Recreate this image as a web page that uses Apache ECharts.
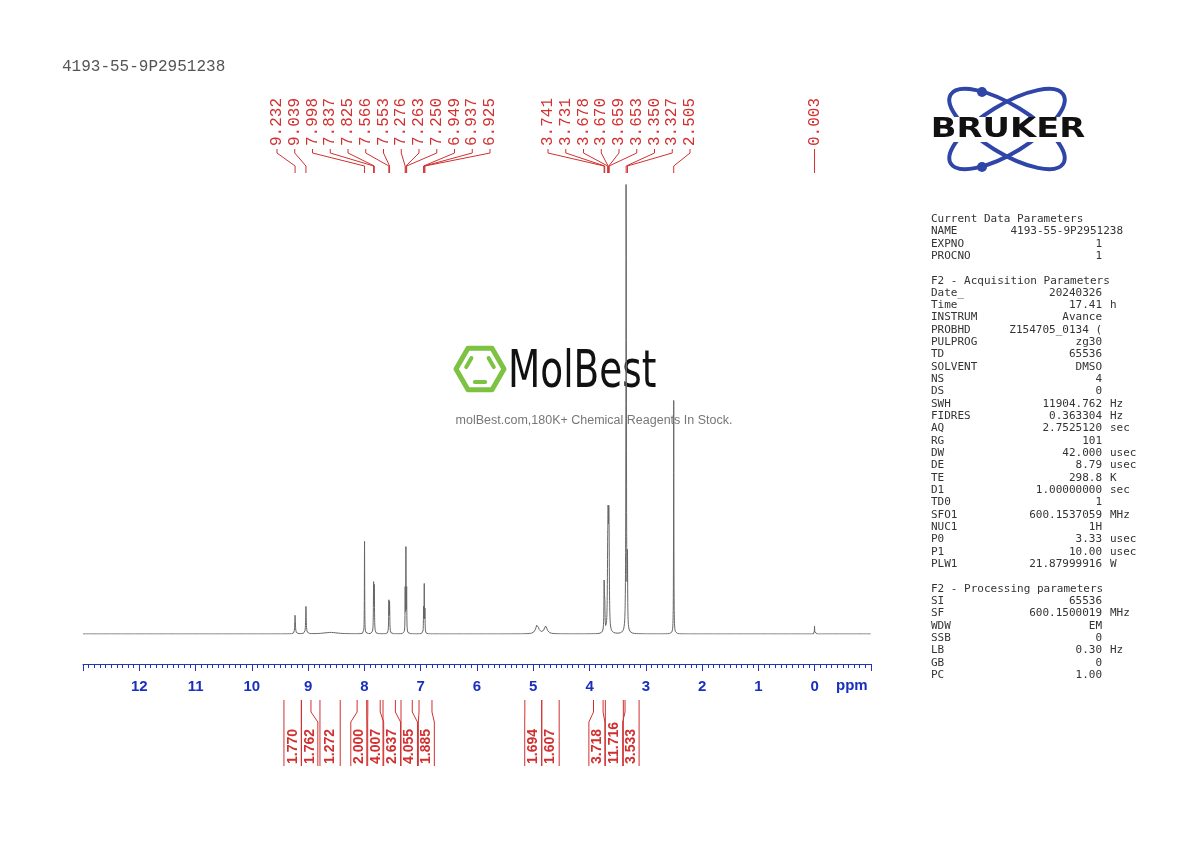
<!DOCTYPE html>
<html><head><meta charset="utf-8">
<script src="https://cdn.jsdelivr.net/npm/echarts@6/dist/echarts.min.js"></script>
<style>html,body{margin:0;padding:0;background:#fff}#c{width:1190px;height:842px}</style>
</head><body><div id="c"></div>
<script>
// ---- data ----
const sampleName = '4193-55-9P2951238';
const peakCenters = [9.232, 9.039, 8.60, 7.998, 7.837, 7.825, 7.566, 7.553, 7.276, 7.263, 7.250, 6.949, 6.937, 6.925, 4.93, 4.78, 3.741, 3.731, 3.678, 3.670, 3.659, 3.653, 3.350, 3.327, 2.505, 0.003];
const peakHeights = [4.6, 6.1, 0.35, 20.6, 10.6, 10.4, 7.0, 7.0, 9.5, 18.5, 9.5, 5.5, 10.6, 5.5, 2.1, 1.7, 10.3, 6.5, 13, 19, 17, 12, 130, 15, 52, 2.2];
const peakWidths = [0.006, 0.006, 0.15, 0.003, 0.004, 0.004, 0.004, 0.004, 0.003, 0.003, 0.003, 0.003, 0.003, 0.003, 0.03, 0.03, 0.005, 0.005, 0.006, 0.006, 0.006, 0.006, 0.004, 0.004, 0.003, 0.002];
const pickGroup1 = [9.232, 9.039, 7.998, 7.837, 7.825, 7.566, 7.553, 7.276, 7.263, 7.250, 6.949, 6.937, 6.925];
const pickGroup2 = [3.741, 3.731, 3.678, 3.670, 3.659, 3.653, 3.350, 3.327, 2.505];
const pickGroup3 = [0.003];
const integralValues = ['1.770', '1.762', '1.272', '2.000', '4.007', '2.637', '4.055', '1.885', '1.694', '1.607', '3.718', '11.716', '3.533'];
const integralFrom = [9.43, 9.12, 8.79, 8.13, 7.94, 7.67, 7.35, 7.03, 5.15, 4.85, 3.93, 3.72, 3.37];
const integralTo = [9.12, 8.95, 8.43, 7.96, 7.72, 7.45, 7.15, 6.80, 4.85, 4.54, 3.76, 3.40, 3.12];
const integralLabelPpm = [9.27, 8.97, 8.61, 8.10, 7.80, 7.50, 7.20, 6.90, 5.01, 4.70, 3.87, 3.57, 3.27];
const axisTicks = [12, 11, 10, 9, 8, 7, 6, 5, 4, 3, 2, 1, 0];
const params = [
 ['Current Data Parameters','',''],
 ['NAME','4193-55-9P2951238','','n'],
 ['EXPNO','1',''],['PROCNO','1',''],['','',''],
 ['F2 - Acquisition Parameters','',''],
 ['Date_','20240326',''],['Time','17.41','h'],['INSTRUM','Avance',''],['PROBHD','Z154705_0134 (',''],
 ['PULPROG','zg30',''],['TD','65536',''],['SOLVENT','DMSO',''],['NS','4',''],['DS','0',''],
 ['SWH','11904.762','Hz'],['FIDRES','0.363304','Hz'],['AQ','2.7525120','sec'],['RG','101',''],
 ['DW','42.000','usec'],['DE','8.79','usec'],['TE','298.8','K'],['D1','1.00000000','sec'],['TD0','1',''],
 ['SFO1','600.1537059','MHz'],['NUC1','1H',''],['P0','3.33','usec'],['P1','10.00','usec'],['PLW1','21.87999916','W'],
 ['','',''],['F2 - Processing parameters','',''],
 ['SI','65536',''],['SF','600.1500019','MHz'],['WDW','EM',''],['SSB','0',''],['LB','0.30','Hz'],['GB','0',''],['PC','1.00','']
];
// ---- spectrum from peak list ----
const spec = [];
for (let i = 0; i <= 14000; i++) {
  const x = 13 - i * 0.001;
  let y = 0;
  for (let k = 0; k < peakCenters.length; k++) {
    const d = (x - peakCenters[k]) / peakWidths[k];
    y += peakHeights[k] / (1 + d * d);
  }
  spec.push([x, Math.min(y, 101)]);
}
const chart = echarts.init(document.getElementById('c'));
const blue = '#1a2fc0';
const option = {
  animation: false,
  grid: [{left: 83, right: 319, top: 185, bottom: 208}, {left: 83, right: 319, top: 600, bottom: 178}],
  xAxis: [{type: 'value', gridIndex: 0, min: -1, max: 13, inverse: true, show: false},
   {type: 'value', gridIndex: 1, min: -1, max: 13, inverse: true, interval: 1, position: 'bottom',
    axisLine: {lineStyle: {color: '#2233bb', width: 1}},
    axisTick: {length: 7, lineStyle: {color: '#2233bb'}},
    minorTick: {show: true, splitNumber: 10, length: 4, lineStyle: {color: '#2233bb'}},
    splitLine: {show: false},
    axisLabel: {color: blue, fontWeight: 'bold', fontSize: 15, fontFamily: 'Liberation Sans', margin: 15,
      formatter: v => axisTicks.indexOf(v) >= 0 ? String(v) : ''}}],
  yAxis: [{type: 'value', gridIndex: 0, min: 0, max: 100, show: false}, {type: 'value', gridIndex: 1, show: false}],
  series: [{type: 'line', xAxisIndex: 0, yAxisIndex: 0, data: spec, showSymbol: false, clip: true, lineStyle: {color: '#666', width: 1}, silent: true}]
};
chart.setOption(option);
const px = p => chart.convertToPixel({xAxisIndex: 0}, p);
const g = [];
const red = '#d03030';
g.push({type: 'text', left: 62, top: 59, style: {text: sampleName, font: '16px "Liberation Mono"', fill: '#555'}});
function picks(list, x0) {
  list.forEach((p, i) => {
    const lx = list.length === 1 ? px(p) : x0 + i * 17.75;
    const tx = px(p);
    g.push({type: 'text', x: lx, y: 146, rotation: Math.PI / 2,
      style: {text: p.toFixed(3), font: '16px "Liberation Mono"', fill: red, align: 'left', verticalAlign: 'middle'}});
    g.push({type: 'polyline', shape: {points: [[lx, 149], [lx, 153], [tx, 166], [tx, 173]]}, style: {stroke: red, lineWidth: 1, fill: null}});
  });
}
picks(pickGroup1, 277); picks(pickGroup2, 548); picks(pickGroup3, 0);
integralValues.forEach((v, i) => {
  const a = px(integralFrom[i]), b = px(integralTo[i]), c = px(integralLabelPpm[i]);
  const la = Math.min(a, c - 8), lb = Math.max(b, c + 8);
  g.push({type: 'polyline', shape: {points: [[a, 700], [a, 712], [la, 722], [la, 766]]}, style: {stroke: red, lineWidth: 1, fill: null}});
  g.push({type: 'polyline', shape: {points: [[b, 700], [b, 712], [lb, 722], [lb, 766]]}, style: {stroke: red, lineWidth: 1, fill: null}});
  g.push({type: 'text', x: c, y: 764, rotation: Math.PI / 2,
    style: {text: v, font: 'bold 14px "Liberation Sans"', fill: red, align: 'left', verticalAlign: 'middle'}});
});
g.push({type: 'text', left: 836, top: 678, style: {text: 'ppm', font: 'bold 15px "Liberation Sans"', fill: blue}});
// parameters
params.forEach((r, i) => {
  const y = 219 + i * 12.33;
  g.push({type: 'text', x: 931, y: y, style: {text: r[0], font: '11px "DejaVu Sans Mono"', fill: '#333', verticalAlign: 'middle'}});
  if (r[1]) g.push({type: 'text', x: r[3] ? 1123 : 1102, y: y, style: {text: r[1], font: '11px "DejaVu Sans Mono"', fill: '#333', align: 'right', verticalAlign: 'middle'}});
  if (r[2]) g.push({type: 'text', x: 1110, y: y, style: {text: r[2], font: '11px "DejaVu Sans Mono"', fill: '#333', verticalAlign: 'middle'}});
});
// Bruker logo
[0.55, -0.55].forEach(rot => g.push({type: 'ellipse', x: 1007, y: 129, rotation: rot, shape: {cx: 0, cy: 0, rx: 66, ry: 24}, style: {stroke: '#2f45a8', lineWidth: 4, fill: null}}));
g.push({type: 'circle', shape: {cx: 982, cy: 92, r: 5}, style: {fill: '#2f45a8'}});
g.push({type: 'circle', shape: {cx: 982, cy: 167, r: 5}, style: {fill: '#2f45a8'}});
g.push({type: 'rect', shape: {x: 926, y: 117, width: 164, height: 25}, style: {fill: '#fff'}});
g.push({type: 'text', x: 1008, y: 130, scaleX: 1.3, style: {text: 'BRUKER', font: '900 26px "DejaVu Sans"', fill: '#111', align: 'center', verticalAlign: 'middle'}});
// MolBest watermark
const hx = 480, hy = 369, hr = 24;
const hex = [];
for (let k = 0; k < 6; k++) { const an = k * Math.PI / 3; hex.push([hx + hr * Math.cos(an), hy + hr * Math.sin(an)]); }
g.push({type: 'polygon', shape: {points: hex}, style: {stroke: '#7dc242', lineWidth: 5, fill: null, lineJoin: 'round'}});
[[1,2],[3,4],[5,0]].forEach(([p, q]) => {
  const s = 0.62, a1 = hex[p], a2 = hex[q];
  const m = (pt) => [hx + (pt[0] - hx) * s, hy + (pt[1] - hy) * s];
  const A = m(a1), B = m(a2);
  g.push({type: 'line', shape: {x1: A[0] + (B[0]-A[0])*0.15, y1: A[1] + (B[1]-A[1])*0.15, x2: B[0] - (B[0]-A[0])*0.15, y2: B[1] - (B[1]-A[1])*0.15}, style: {stroke: '#7dc242', lineWidth: 4, lineCap: 'round'}});
});
g.push({type: 'text', x: 508, y: 373, scaleX: 0.72, style: {text: 'MolBest', font: '52px "DejaVu Sans"', fill: '#111', verticalAlign: 'middle'}});
g.push({type: 'text', x: 594, y: 421, style: {text: 'molBest.com,180K+ Chemical Reagents In Stock.', font: '12.5px "Liberation Sans"', fill: '#777', align: 'center', verticalAlign: 'middle'}});
chart.setOption({graphic: {elements: g}});
</script></body></html>
